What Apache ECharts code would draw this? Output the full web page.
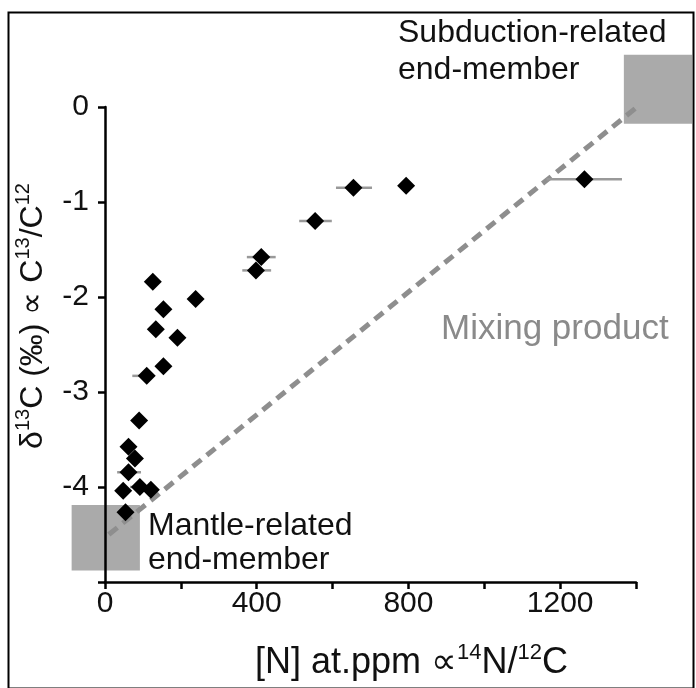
<!DOCTYPE html>
<html><head><meta charset="utf-8">
<script src="https://cdn.jsdelivr.net/npm/echarts@6/dist/echarts.min.js"></script>
<style>html,body{margin:0;padding:0;background:#fff}#c{width:696px;height:688px}</style>
</head><body><div id="c"></div>
<script>
// ---- data ----
const nitrogenPpm = [1264, 794, 655, 554, 412, 398, 239, 126, 154, 134, 191, 154, 110, 90, 62, 79, 62, 92, 121, 48, 54];
const delta13C   = [-0.76, -0.83, -0.85, -1.20, -1.58, -1.72, -2.02, -1.84, -2.13, -2.34, -2.43, -2.73, -2.83, -3.30, -3.575, -3.70, -3.845, -4.00, -4.03, -4.04, -4.265];
const errN   = [1264, 655, 554, 412, 398, 110, 62, 92];
const errD13 = [-0.76, -0.85, -1.20, -1.58, -1.72, -2.83, -3.845, -4.00];
const errLo  = [1164, 609, 512, 374, 362, 72, 32, 66];
const errHi  = [1363, 704, 598, 450, 438, 110, 95, 120];
const mixingLine = [[10, -4.5], [1440, 0.12]];
const mantleBox = [-88, -4.88, 92, -4.19];
const subductionBox = [1368, -0.175, 1548, 0.55];
const xTickLabels = [0, 400, 800, 1200];
const yTickLabels = [0, -1, -2, -3, -4];

const FONT = '"Liberation Sans", Arial, Helvetica, sans-serif';
const chart = echarts.init(document.getElementById('c'), null, {renderer: 'canvas'});

const scatterData = nitrogenPpm.map((x, i) => [x, delta13C[i]]);
const errData = errN.map((x, i) => [x, errD13[i], errLo[i], errHi[i]]);

const option = {
  backgroundColor: '#fff',
  animation: false,
  grid: {left: 105, right: 60, top: 107, bottom: 106},
  xAxis: {
    type: 'value', min: 0, max: 1400, interval: 200,
    axisLine: {show: true, onZero: false, lineStyle: {color: '#000', width: 2.5}},
    axisTick: {show: true, inside: false, length: 7, lineStyle: {color: '#000', width: 2.5}},
    splitLine: {show: false},
    axisLabel: {
      margin: 7, fontSize: 30, color: '#111', fontFamily: FONT,
      formatter: v => xTickLabels.includes(v) ? String(v) : ''
    },
    name: '{b|[N] at.ppm ∝}{s|14}{b|N/}{s|12}{b|C}',
    nameLocation: 'middle', nameGap: 60,
    nameTextStyle: {
      padding: [0, 0, 0, 82],
      rich: {
        b: {fontSize: 36, fontFamily: FONT, color: '#111', lineHeight: 42},
        s: {fontSize: 22, fontFamily: FONT, color: '#111', lineHeight: 22, verticalAlign: 'top'}
      }
    }
  },
  yAxis: {
    type: 'value', min: -5, max: 0, interval: 1,
    axisLine: {show: true, onZero: false, lineStyle: {color: '#000', width: 2.5}},
    axisTick: {show: true, inside: false, length: 7, lineStyle: {color: '#000', width: 2.5}},
    splitLine: {show: false},
    axisLabel: {
      margin: 16, fontSize: 30, color: '#111', fontFamily: FONT,
      formatter: v => yTickLabels.includes(v) ? String(v) : ''
    },
    name: '{b|δ}{s|13}{b|C (‰) ∝ C}{s|13}{b|/C}{s|12}',
    nameLocation: 'middle', nameGap: 52,
    nameTextStyle: {
      padding: [0, 0, 0, 57],
      rich: {
        b: {fontSize: 32, fontFamily: FONT, color: '#111', lineHeight: 40},
        s: {fontSize: 20, fontFamily: FONT, color: '#111', lineHeight: 20, verticalAlign: 'top'}
      }
    }
  },
  graphic: [
    {type: 'rect', left: 6, top: 10, shape: {width: 685, height: 676}, style: {fill: 'none', stroke: '#000', lineWidth: 2}, z: 100},
    {type: 'text', x: 398, y: 52, style: {text: 'Subduction-related\nend-member', font: '32px ' + FONT, fill: '#111', lineHeight: 37, verticalAlign: 'middle', align: 'left'}},
    {type: 'text', x: 148, y: 543, style: {text: 'Mantle-related\nend-member', font: '32px ' + FONT, fill: '#111', lineHeight: 34, verticalAlign: 'middle', align: 'left'}},
    {type: 'text', x: 441, y: 329, style: {text: 'Mixing product', font: '35px ' + FONT, fill: '#8a8a8a', verticalAlign: 'middle', align: 'left'}}
  ],
  series: [
    {
      type: 'custom', name: 'end-members', z: -1, clip: false,
      data: [mantleBox, subductionBox],
      renderItem: (params, api) => {
        const p1 = api.coord([api.value(0), api.value(1)]);
        const p2 = api.coord([api.value(2), api.value(3)]);
        return {type: 'rect', shape: {x: Math.min(p1[0], p2[0]), y: Math.min(p1[1], p2[1]), width: Math.abs(p2[0] - p1[0]), height: Math.abs(p2[1] - p1[1])}, style: {fill: '#aaaaaa'}};
      }
    },
    {
      type: 'line', name: 'mixing', clip: false, symbol: 'none', z: 3,
      data: mixingLine,
      lineStyle: {color: '#8e8e8e', width: 5, type: [11, 7], cap: 'butt'}
    },
    {
      type: 'custom', name: 'errors', z: 4, clip: false,
      data: errData,
      renderItem: (params, api) => {
        const a = api.coord([api.value(2), api.value(1)]);
        const b = api.coord([api.value(3), api.value(1)]);
        return {type: 'line', shape: {x1: a[0], y1: a[1], x2: b[0], y2: b[1]}, style: {stroke: '#999', lineWidth: 2.5}};
      }
    },
    {
      type: 'scatter', name: 'samples', z: 5, clip: false,
      symbol: 'diamond', symbolSize: 18,
      itemStyle: {color: '#000', opacity: 1},
      data: scatterData
    }
  ]
};
chart.setOption(option);
</script>
</body></html>
